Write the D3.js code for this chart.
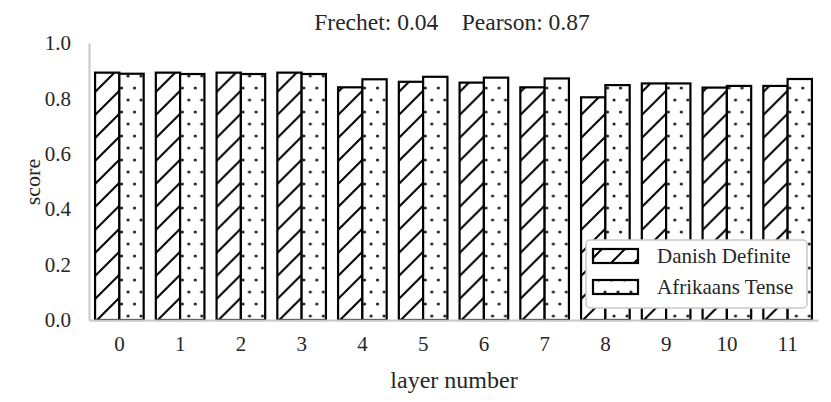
<!DOCTYPE html>
<html>
<head>
<meta charset="utf-8">
<script src="https://cdn.jsdelivr.net/npm/d3@7/dist/d3.min.js"></script>
<style>
  html, body { margin: 0; padding: 0; background: #fff; }
  svg text { font-family: "Liberation Serif", Tinos, "Times New Roman", Times, "DejaVu Serif", serif !important; fill: #262626; }
</style>
</head>
<body>
<svg id="chart" width="831" height="402"></svg>
<script>
const categories = ["0","1","2","3","4","5","6","7","8","9","10","11"];
const seriesNames = ["Danish Definite", "Afrikaans Tense"];
const danishDefinite = [0.893, 0.893, 0.893, 0.893, 0.840, 0.860, 0.857, 0.840, 0.804, 0.854, 0.839, 0.845];
const afrikaansTense = [0.889, 0.888, 0.888, 0.888, 0.869, 0.878, 0.875, 0.872, 0.848, 0.854, 0.845, 0.870];
const yTicks = [0.0, 0.2, 0.4, 0.6, 0.8, 1.0];
const titleText = "Frechet: 0.04    Pearson: 0.87";
const xLabel = "layer number";
const yLabel = "score";

const svg = d3.select("#chart");
const defs = svg.append("defs");

// hatch pattern
const hatch = defs.append("pattern").attr("id", "hatch")
  .attr("patternUnits", "userSpaceOnUse").attr("width", 23).attr("height", 23);
hatch.append("rect").attr("width", 23).attr("height", 23).attr("fill", "#fff");
hatch.append("path").attr("d", "M-2,25 L25,-2 M-2,2 L2,-2 M21,25 L25,21")
  .attr("stroke", "#000").attr("stroke-width", 2).attr("fill", "none");

// dots pattern
const dots = defs.append("pattern").attr("id", "dots")
  .attr("patternUnits", "userSpaceOnUse").attr("width", 13).attr("height", 24)
  .attr("x", 4).attr("y", 1);
dots.append("rect").attr("width", 13).attr("height", 24).attr("fill", "#fff");
dots.append("circle").attr("cx", 3).attr("cy", 3).attr("r", 1.6).attr("fill", "#222");
dots.append("circle").attr("cx", 9.5).attr("cy", 15).attr("r", 1.6).attr("fill", "#222");

const x0 = d3.scaleBand().domain(categories).range([89, 818]).paddingInner(0.2).paddingOuter(0.1);
const x1 = d3.scaleBand().domain(seriesNames).range([0, x0.bandwidth()]);
const y = d3.scaleLinear().domain([0, 1]).range([320, 43]);

const fills = {"Danish Definite": "url(#hatch)", "Afrikaans Tense": "url(#dots)"};
const data = categories.map((c, i) => ({cat: c, vals: [
  {name: seriesNames[0], v: danishDefinite[i]},
  {name: seriesNames[1], v: afrikaansTense[i]}
]}));

const FONT = "Liberation Serif";

const yAxis = d3.axisLeft(y).tickValues(yTicks).tickFormat(d3.format(".1f")).tickSize(0).tickPadding(18);
const gy = svg.append("g").attr("transform", "translate(89,0)").call(yAxis);
gy.attr("font-family", FONT);
gy.select(".domain").attr("stroke", "#c8c8c8").attr("stroke-width", 2);
gy.selectAll("text").attr("font-size", 21).attr("font-family", FONT).attr("fill", "#262626");

// bars
const groups = svg.append("g").selectAll("g").data(data).join("g")
  .attr("transform", d => `translate(${x0(d.cat)},0)`);
groups.selectAll("rect").data(d => d.vals).join("rect")
  .attr("x", d => x1(d.name))
  .attr("y", d => y(d.v))
  .attr("width", x1.bandwidth())
  .attr("height", d => y(0) - y(d.v))
  .attr("fill", d => fills[d.name])
  .attr("stroke", "#000").attr("stroke-width", 2.2);

const xAxis = d3.axisBottom(x0).tickSize(0).tickPadding(16);
const gx = svg.append("g").attr("transform", "translate(0,320)").call(xAxis);
gx.attr("font-family", FONT);
gx.select(".domain").attr("stroke", "#c8c8c8").attr("stroke-width", 2);
gx.selectAll("text").attr("font-size", 21).attr("font-family", FONT).attr("fill", "#262626");

// title
svg.append("text").attr("x", 452).attr("y", 30).attr("text-anchor", "middle")
  .attr("font-family", FONT).attr("font-size", 23.5).attr("xml:space", "preserve").style("white-space", "pre").text(titleText);

// axis labels
svg.append("text").attr("x", 454).attr("y", 388).attr("text-anchor", "middle")
  .attr("font-family", FONT).attr("font-size", 24).text(xLabel);
svg.append("text").attr("transform", "translate(40,182) rotate(-90)").attr("text-anchor", "middle")
  .attr("font-family", FONT).attr("font-size", 22).text(yLabel);

// legend
const lg = svg.append("g");
lg.append("rect").attr("x", 586).attr("y", 240).attr("width", 221).attr("height", 68)
  .attr("rx", 4).attr("fill", "#fff").attr("stroke", "#c8c8c8").attr("stroke-width", 1.5);
seriesNames.forEach((name, i) => {
  const cy = 256 + i * 31;
  lg.append("rect").attr("x", 593).attr("y", cy - 7).attr("width", 45).attr("height", 14)
    .attr("fill", fills[name]).attr("stroke", "#000").attr("stroke-width", 2.2);
  lg.append("text").attr("x", 657).attr("y", cy).attr("dy", "0.35em")
    .attr("font-family", FONT).attr("font-size", 21).text(name);
});
</script>
</body>
</html>
